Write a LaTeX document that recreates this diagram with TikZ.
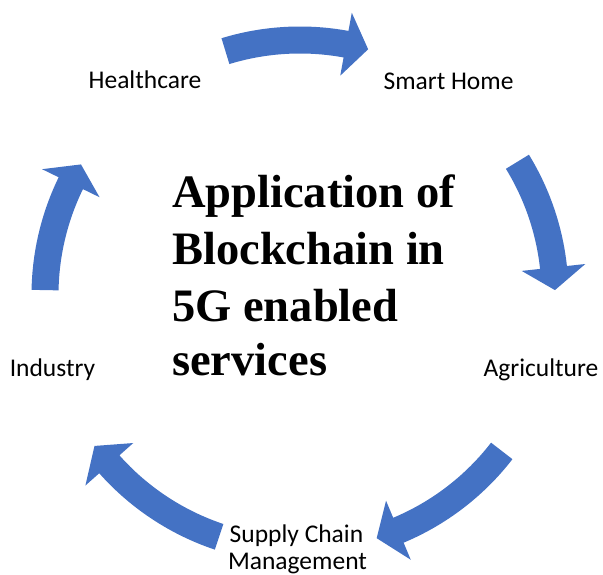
\documentclass[tikz,border=0pt]{standalone}
\usepackage{fontspec}
\setmainfont{Carlito}
\newfontfamily\titlefont{Liberation Serif}
\definecolor{arrowblue}{RGB}{68,114,196}
\def\Rm{255}\def\Ro{268.5}\def\Ri{241.5}\def\Ho{287}\def\Hi{223}
\newcommand\cyclearrow[3]{%
  \fill[arrowblue] (#1:\Ro) arc[start angle=#1, end angle=#2, radius=\Ro]
    -- (#2:\Ho) -- (#3:\Rm) -- (#2:\Hi) -- (#2:\Ri)
    arc[start angle=#2, end angle=#1, radius=\Ri] -- cycle;}
\begin{document}
\begin{tikzpicture}[x=1pt,y=1pt,
  lbl/.style={font=\fontsize{25.5}{28}\selectfont, inner sep=0pt, anchor=base, text=black},
  ttl/.style={font=\titlefont\bfseries\fontsize{46.5}{56}\selectfont, inner sep=0pt, anchor=base west}]
\useasboundingbox (0,0) rectangle (603,575);
\begin{scope}[shift={(300,280)}]
  \cyclearrow{107}{79.6}{74.5}
  \cyclearrow{31.5}{6.2}{1.1}
  \cyclearrow{-37.7}{-67.3}{-72.5}
  \cyclearrow{-108.5}{-138.4}{-143.7}
  \cyclearrow{178.9}{154}{149.2}
\end{scope}
\node[lbl] (health) at (145,486) {Healthcare};
\node[lbl] (home) at (448.5,485) {Smart Home};
\node[lbl] (agri) at (541,198) {Agriculture};
\node[lbl] (ind) at (52.5,198) {Industry};
\node[lbl] (supply) at (296.5,32) {Supply Chain};
\node[lbl] (mgmt) at (297.5,5) {Management};
\node[ttl] (t1) at (172,367) {Application of};
\node[ttl] (t2) at (172,310) {Blockchain in};
\node[ttl] (t3) at (172,253) {5G enabled};
\node[ttl] (t4) at (172,199) {services};
\end{tikzpicture}
\end{document}
